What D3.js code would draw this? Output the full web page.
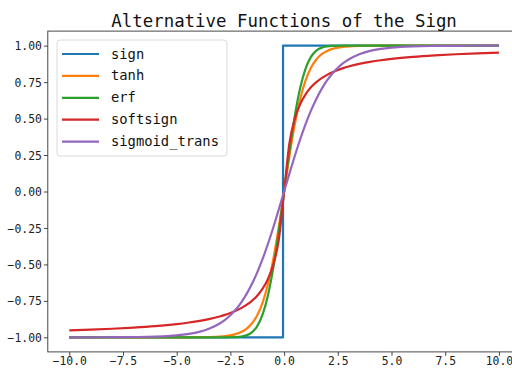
<!DOCTYPE html>
<html>
<head>
<meta charset="utf-8">
<script src="https://cdn.jsdelivr.net/npm/d3@7"></script>
<style>
  html, body { margin: 0; padding: 0; background: #fff; }
  svg { display: block; }
</style>
</head>
<body>
<div id="chart"></div>
<script>
const xs = [-10, -9, -8, -7, -6, -5, -4.5, -4, -3.5, -3, -2.75, -2.5, -2.25, -2, -1.75, -1.5, -1.25, -1, -0.75, -0.5, -0.25,
  0, 0.25, 0.5, 0.75, 1, 1.25, 1.5, 1.75, 2, 2.25, 2.5, 2.75, 3, 3.5, 4, 4.5, 5, 6, 7, 8, 9, 10];

const tanhVals = [-1, -1, -1, -1, -1, -0.9999, -0.9998, -0.9993, -0.9982, -0.9951, -0.9918, -0.9866, -0.9780, -0.9640, -0.9414, -0.9051, -0.8483, -0.7616, -0.6351, -0.4621, -0.2449,
  0, 0.2449, 0.4621, 0.6351, 0.7616, 0.8483, 0.9051, 0.9414, 0.9640, 0.9780, 0.9866, 0.9918, 0.9951, 0.9982, 0.9993, 0.9998, 0.9999, 1, 1, 1, 1, 1];

const erfVals = [-1, -1, -1, -1, -1, -1, -1, -1, -1, -1, -0.9999, -0.9996, -0.9985, -0.9953, -0.9867, -0.9661, -0.9229, -0.8427, -0.7112, -0.5205, -0.2763,
  0, 0.2763, 0.5205, 0.7112, 0.8427, 0.9229, 0.9661, 0.9867, 0.9953, 0.9985, 0.9996, 0.9999, 1, 1, 1, 1, 1, 1, 1, 1, 1, 1];

const softsignVals = [-0.9524, -0.9474, -0.9412, -0.9333, -0.9231, -0.9091, -0.9, -0.8889, -0.875, -0.8571, -0.8462, -0.8333, -0.8182, -0.8, -0.7778, -0.75, -0.7143, -0.6667, -0.6, -0.5, -0.3333,
  0, 0.3333, 0.5, 0.6, 0.6667, 0.7143, 0.75, 0.7778, 0.8, 0.8182, 0.8333, 0.8462, 0.8571, 0.875, 0.8889, 0.9, 0.9091, 0.9231, 0.9333, 0.9412, 0.9474, 0.9524];

const sigmoidVals = [-0.9999, -0.9998, -0.9993, -0.9982, -0.9951, -0.9866, -0.9780, -0.9640, -0.9414, -0.9051, -0.8800, -0.8483, -0.8096, -0.7616, -0.7039, -0.6351, -0.5546, -0.4621, -0.3584, -0.2449, -0.1244,
  0, 0.1244, 0.2449, 0.3584, 0.4621, 0.5546, 0.6351, 0.7039, 0.7616, 0.8096, 0.8483, 0.8800, 0.9051, 0.9414, 0.9640, 0.9780, 0.9866, 0.9951, 0.9982, 0.9993, 0.9998, 0.9999];

const signXs = [-10, -0.05, -0.05, 10];
const signVals = [-1, -1, 1, 1];

const xTicks = [-10, -7.5, -5, -2.5, 0, 2.5, 5, 7.5, 10];
const yTicks = [-1, -0.75, -0.5, -0.25, 0, 0.25, 0.5, 0.75, 1];

const names = ['sign', 'tanh', 'erf', 'softsign', 'sigmoid_trans'];
const colors = ['#1f77b4', '#ff7f0e', '#2ca02c', '#d62728', '#9467bd'];

const W = 512, H = 368;
const plotL = 47.8, plotR = 520.4, plotT = 31.1, plotB = 351.9;
const FONT = '"DejaVu Sans Mono", "Liberation Mono", monospace';

const x = d3.scaleLinear().domain([-11, 11]).range([plotL, plotR]);
const y = d3.scaleLinear().domain([-1.1, 1.1]).range([plotB, plotT]);

const svg = d3.select('#chart').append('svg')
  .attr('width', W).attr('height', H);

const series = [
  { name: 'sign', xv: signXs, yv: signVals },
  { name: 'tanh', xv: xs, yv: tanhVals },
  { name: 'erf', xv: xs, yv: erfVals },
  { name: 'softsign', xv: xs, yv: softsignVals },
  { name: 'sigmoid_trans', xv: xs, yv: sigmoidVals },
];

const line = d3.line()
  .x(d => x(d[0]))
  .y(d => y(d[1]))
  .curve(d3.curveMonotoneX);

const signLine = d3.line()
  .x(d => x(d[0]))
  .y(d => y(d[1]));

svg.append('g')
  .selectAll('path')
  .data(series)
  .join('path')
  .attr('fill', 'none')
  .attr('stroke', (d, i) => colors[i])
  .attr('stroke-width', 2.2)
  .attr('stroke-linejoin', 'round')
  .attr('d', d => {
    const pts = d.xv.map((v, i) => [v, d.yv[i]]);
    return d.name === 'sign' ? signLine(pts) : line(pts);
  });

// axes
const xAxis = d3.axisBottom(x).tickValues(xTicks).tickSize(3.9).tickPadding(1.5)
  .tickFormat(d3.format('.1f'));
const yAxis = d3.axisLeft(y).tickValues(yTicks).tickSize(3.9).tickPadding(2)
  .tickFormat(d3.format('.2f'));

const gx = svg.append('g').attr('transform', `translate(0,${plotB})`).call(xAxis);
const gy = svg.append('g').attr('transform', `translate(${plotL},0)`).call(yAxis);

[gx, gy].forEach(g => {
  g.select('.domain').remove();
  g.selectAll('.tick line').attr('stroke', '#333').attr('stroke-width', 0.9);
  g.selectAll('.tick text')
    .attr('fill', '#222')
    .style('font-family', FONT)
    .style('font-size', '11.4px');
});
gy.selectAll('.tick text').attr('dy', '0.36em');

// spines
svg.append('rect')
  .attr('x', plotL).attr('y', plotT)
  .attr('width', plotR - plotL).attr('height', plotB - plotT)
  .attr('fill', 'none')
  .attr('stroke', '#333')
  .attr('stroke-width', 0.9);

// title
svg.append('text')
  .text('Alternative Functions of the Sign')
  .attr('x', (plotL + plotR) / 2)
  .attr('y', 26.5)
  .attr('text-anchor', 'middle')
  .attr('fill', '#111')
  .style('font-family', FONT)
  .style('font-size', '17.4px');

// legend
const legend = svg.append('g').attr('transform', 'translate(57,40)');
legend.append('rect')
  .attr('width', 170).attr('height', 116)
  .attr('rx', 3).attr('ry', 3)
  .attr('fill', '#fff')
  .attr('fill-opacity', 0.8)
  .attr('stroke', '#d6d6d6')
  .attr('stroke-width', 0.9);

names.forEach((n, i) => {
  const row = legend.append('g').attr('transform', `translate(0,${14 + i * 21.9})`);
  row.append('line')
    .attr('x1', 5).attr('x2', 42)
    .attr('y1', 0).attr('y2', 0)
    .attr('stroke', colors[i])
    .attr('stroke-width', 2.2);
  row.append('text')
    .text(n)
    .attr('x', 54)
    .attr('y', 4.5)
    .attr('fill', '#111')
    .style('font-family', FONT)
    .style('font-size', '13.8px');
});
</script>
</body>
</html>
